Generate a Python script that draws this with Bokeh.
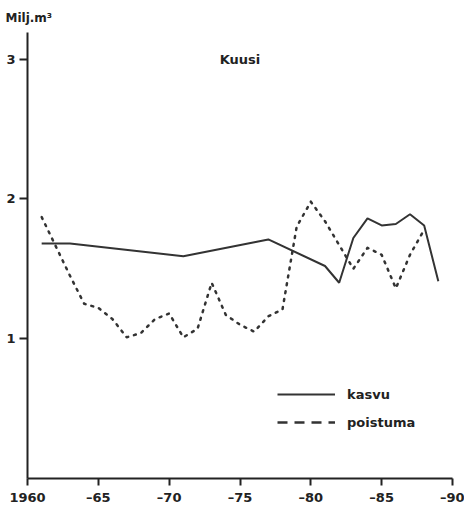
from bokeh.plotting import figure
from bokeh.models import Label, Legend, LegendItem, FixedTicker, Range1d, Title
from bokeh.embed import file_html
from bokeh.resources import INLINE

# Data
kasvu_years = [1961, 1963, 1971, 1977, 1981, 1982, 1983, 1984, 1985, 1986, 1987, 1988, 1989]
kasvu_vals = [1.68, 1.68, 1.59, 1.71, 1.52, 1.40, 1.72, 1.86, 1.81, 1.82, 1.89, 1.81, 1.41]

poistuma_years = list(range(1961, 1989))
poistuma_vals = [1.87, 1.66, 1.45, 1.25, 1.22, 1.14, 1.01, 1.04, 1.14, 1.18, 1.01, 1.07,
                 1.40, 1.17, 1.10, 1.05, 1.16, 1.21, 1.80, 1.98, 1.84, 1.67, 1.50, 1.65,
                 1.60, 1.36, 1.60, 1.78]

x_ticks = [1960, 1965, 1970, 1975, 1980, 1985, 1990]
x_tick_labels = ["1960", "–65", "–70", "–75", "–80", "–85", "–90"]
y_ticks = [1, 2, 3]
y_tick_labels = ["1", "2", "3"]

FONT = "DejaVu Sans"
INK = "#222222"

p = figure(width=464, height=508, output_backend="svg", toolbar_location=None,
           x_range=Range1d(1960, 1990), y_range=Range1d(0, 3.19),
           min_border_left=27, min_border_right=12, min_border_top=0, min_border_bottom=30)
p.outline_line_color = None
p.xgrid.visible = False
p.ygrid.visible = False
p.background_fill_color = "white"
p.border_fill_color = "white"

p.title = Title(text="Milj.m³", align="left", offset=-22, text_font=FONT,
                text_font_style="bold", text_font_size="12px", text_color=INK,
                standoff=16)

for ax in (p.xaxis[0], p.yaxis[0]):
    ax.axis_line_color = INK
    ax.axis_line_width = 2
    ax.major_tick_line_color = INK
    ax.major_tick_line_width = 2
    ax.minor_tick_line_color = None
    ax.major_tick_in = 0
    ax.major_label_text_font = FONT
    ax.major_label_text_font_style = "bold"
    ax.major_label_text_font_size = "13px"
    ax.major_label_text_color = INK

p.xaxis.ticker = FixedTicker(ticks=x_ticks)
p.xaxis.major_label_overrides = {t: l for t, l in zip(x_ticks, x_tick_labels)}
p.xaxis.major_tick_out = 7
p.xaxis.major_label_standoff = 4

p.yaxis.ticker = FixedTicker(ticks=y_ticks)
p.yaxis.major_label_overrides = {t: l for t, l in zip(y_ticks, y_tick_labels)}
p.yaxis.major_tick_out = 8
p.yaxis.major_label_standoff = 4

p.line(kasvu_years, kasvu_vals, line_color="#333333", line_width=2)
p.line(poistuma_years, poistuma_vals, line_color="#333333", line_width=2.5,
       line_dash="2 6", line_cap="round", line_join="round")

# legend proxies (no visible data)
nan = float("nan")
r1 = p.line([nan], [nan], line_color="#333333", line_width=2)
r2 = p.line([nan], [nan], line_color="#333333", line_width=2.5, line_dash="10 7")
legend = Legend(items=[LegendItem(label="kasvu", renderers=[r1]),
                       LegendItem(label="poistuma", renderers=[r2])],
                location=(250, 48), glyph_width=58, glyph_height=16, label_height=16,
                spacing=12, padding=0, margin=0, label_standoff=12,
                label_text_font=FONT, label_text_font_style="bold",
                label_text_font_size="13px", label_text_color=INK,
                border_line_color=None, background_fill_alpha=0)
p.add_layout(legend)

p.add_layout(Label(x=1975, y=3.0, text="Kuusi", text_font=FONT, text_font_style="bold",
                   text_font_size="13px", text_color=INK, text_align="center",
                   text_baseline="middle"))

open("out.html", "w").write(file_html(p, INLINE))
